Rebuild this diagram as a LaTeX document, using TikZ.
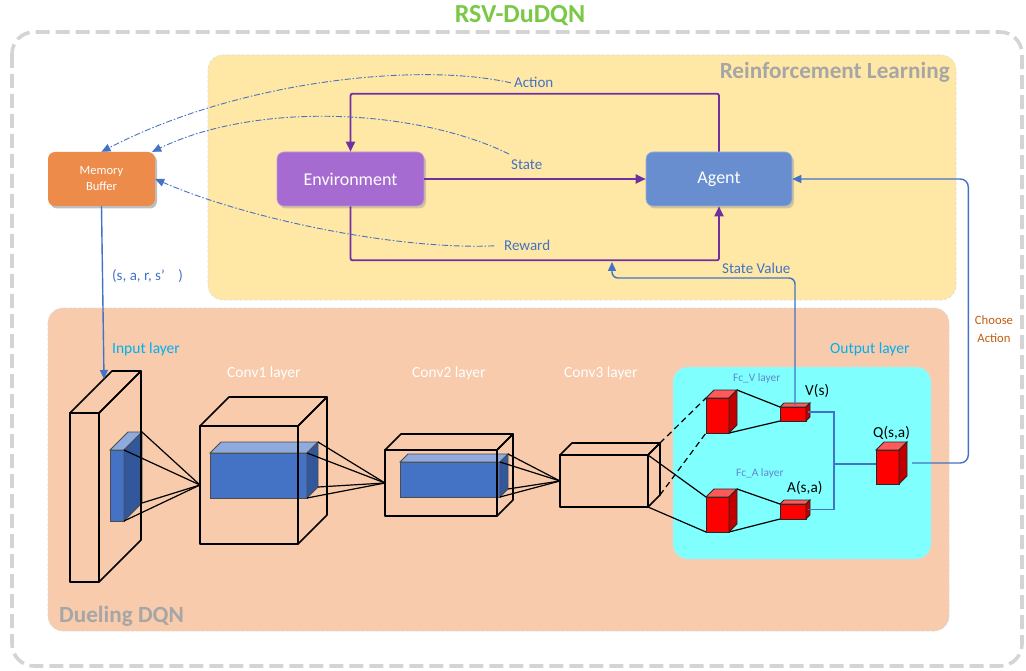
\documentclass[tikz,border=0pt]{standalone}
\usepackage{fontspec}
\setmainfont{Carlito}
\usetikzlibrary{arrows.meta,shadows,calc}

\definecolor{titlegreen}{RGB}{122,200,70}
\definecolor{frameg}{RGB}{212,212,212}
\definecolor{rlfill}{RGB}{255,232,166}
\definecolor{dqnfill}{RGB}{247,203,172}
\definecolor{outfill}{RGB}{128,255,255}
\definecolor{memfill}{RGB}{237,139,74}
\definecolor{envfill}{RGB}{166,107,208}
\definecolor{agentfill}{RGB}{105,142,208}
\definecolor{loopc}{RGB}{112,48,160}
\definecolor{linkc}{RGB}{68,114,196}
\definecolor{grayhead}{RGB}{166,166,166}
\definecolor{cyanlbl}{RGB}{0,176,240}
\definecolor{choosec}{RGB}{197,90,17}
\definecolor{cubefront}{RGB}{68,114,196}
\definecolor{cubetop}{RGB}{143,170,220}
\definecolor{cubeside}{RGB}{50,87,155}
\definecolor{redtop}{RGB}{255,90,90}
\definecolor{redside}{RGB}{192,0,0}

\newcommand{\fs}[2]{\fontsize{#1}{#2}\selectfont}

% cuboid: name, x, y (front top-left, y downwards), width, height, depth,
% front style, top style, side style
\newcommand{\cuboid}[9]{%
  \coordinate (#1-ftl) at (#2,#3);
  \coordinate (#1-ftr) at ({#2+#4},#3);
  \coordinate (#1-fbl) at (#2,{#3+#5});
  \coordinate (#1-fbr) at ({#2+#4},{#3+#5});
  \coordinate (#1-btl) at ({#2+#6},{#3-#6});
  \coordinate (#1-btr) at ({#2+#4+#6},{#3-#6});
  \coordinate (#1-bbr) at ({#2+#4+#6},{#3+#5-#6});
  \coordinate (#1-l) at (#2,{#3+#5/2});
  \coordinate (#1-r) at ({#2+#4+#6/2},{#3+#5/2-#6/2});
  \coordinate (#1-t) at ({#2+#4/2+#6/2},{#3-#6/2});
  \path[#7] (#1-ftl) rectangle (#1-fbr);
  \path[#8] (#1-ftl) -- (#1-btl) -- (#1-btr) -- (#1-ftr) -- cycle;
  \path[#9] (#1-ftr) -- (#1-btr) -- (#1-bbr) -- (#1-fbr) -- cycle;
}

\begin{document}
\begin{tikzpicture}[x=1pt,y=-1pt,
  panel/.style={rounded corners=15pt, draw=black!14, line width=0.6pt, dash pattern=on 3pt off 2pt},
  blk/.style={rounded corners=7pt, minimum height=54pt, inner sep=0pt, text=white, align=center},
  lbl/.style={inner sep=0pt, text=linkc, font=\fs{15}{18}},
  layertxt/.style={inner sep=0pt, text=white, font=\fs{15.5}{18}},
  cyantxt/.style={inner sep=0pt, text=cyanlbl, font=\fs{15.5}{18}},
  fctxt/.style={inner sep=0pt, text=linkc!85, font=\fs{11.4}{14}},
  qtxt/.style={inner sep=0pt, text=black, font=\fs{15.3}{18}},
  headtxt/.style={inner sep=0pt, text=grayhead, font=\bfseries\fs{23.2}{26}},
  rlloop/.style={draw=loopc, line width=1.8pt, rounded corners=2pt, -{Triangle[length=10pt,width=9pt]}},
  rllink/.style={draw=linkc, line width=1.4pt},
  rllinkarrow/.style={rllink, -{Triangle[length=9pt,width=8pt]}},
  memlink/.style={draw=linkc, line width=0.9pt, dash pattern=on 6pt off 2pt on 1.5pt off 2pt, -{Triangle[length=9pt,width=8pt]}},
  cubewire/.style={draw=black, line width=1.6pt, line join=round},
  fanray/.style={draw=black, line width=1.2pt},
  bfront/.style={fill=cubefront, draw=black!70, line width=0.8pt},
  btop/.style={fill=cubetop, draw=black!70, line width=0.8pt},
  bside/.style={fill=cubeside, draw=black!70, line width=0.8pt},
  rfront/.style={fill=red, draw=black!85, line width=0.9pt},
  rtop/.style={fill=redtop, draw=black!85, line width=0.9pt},
  rside/.style={fill=redside, draw=black!85, line width=0.9pt},
]
\useasboundingbox (0,0) rectangle (1026,671);

% outer frame and panels
\draw[draw=frameg, line width=3.6pt, dash pattern=on 14pt off 6pt, rounded corners=22pt] (12,32) rectangle (1022,666);
\path[panel, fill=rlfill] (208,55) rectangle (956,300);
\path[panel, fill=dqnfill] (48,308) rectangle (949,631);
\path[panel, fill=outfill] (673,367) rectangle (931,559);

\node[font=\bfseries\fs{26}{30}, text=titlegreen, inner sep=0pt, anchor=base] (title) at (520,23) {RSV-DuDQN};
\node[headtxt, anchor=base east] (rlhead) at (950,79) {Reinforcement Learning};
\node[headtxt, anchor=base west] (dqnhead) at (59,622) {Dueling DQN};

% reinforcement learning blocks
\node[blk, fill=memfill, minimum width=107pt, font=\fs{12.5}{16},
      drop shadow={opacity=0.5, shadow xshift=2pt, shadow yshift=-2.5pt}] (mem) at (101.5,179) {Memory\\Buffer};
\node[blk, fill=envfill, minimum width=147pt, font=\fs{18}{20}, draw=envfill!70!white, line width=0.6pt,
      drop shadow={opacity=0.35, shadow xshift=2pt, shadow yshift=-2.5pt}] (env) at (350.5,179) {Environment};
\node[blk, fill=agentfill, minimum width=146pt, font=\fs{18}{20}, draw=agentfill!70!white, line width=0.6pt,
      drop shadow={opacity=0.35, shadow xshift=2pt, shadow yshift=-2.5pt}] (agent) at (719,179) {Agent};

\node[lbl, anchor=base west] (actlab) at (514,88) {Action};
\node[lbl, anchor=base west] (stlab) at (511,170) {State};
\node[lbl, anchor=base west] (rwlab) at (504,251) {Reward};
\node[lbl, anchor=base west] (svlab) at (722,273) {State Value};
\node[lbl, anchor=base west] (tuple) at (112,280) {(s, a, r, s’\ \ \ \ )};
\node[inner sep=0pt, text=choosec, font=\fs{12.7}{18}, align=center, anchor=base] (choose) at (994,342) {Choose\\Action};

% agent-environment loop
\draw[rlloop] (agent.north) -- ++(0,-58) -| (env.north);
\draw[rlloop] (env.east) -- (agent.west);
\draw[rlloop] (env.south) -- ++(0,54) -| (agent.south);

% transitions stored in the memory buffer
\coordinate (actstart) at ($(actlab.west)+(-3,0)$);
\coordinate (ststart) at ($(stlab.north west)+(-2,-6)$);
\coordinate (rwstart) at ($(rwlab.west)+(-10,0)$);
\draw[memlink] (actstart) .. controls (420,62) and (240,80) .. (mem.north);
\draw[memlink] (ststart) .. controls (420,110) and (260,100) .. ($(mem.north east)+(-3,0)$);
\draw[memlink] (rwstart) .. controls (400,250) and (250,220) .. (mem.east);

% layer captions
\node[cyantxt, anchor=base west] (inlab) at (112,353) {Input layer};
\node[layertxt, anchor=base west] (c1lab) at (227,377) {Conv1 layer};
\node[layertxt, anchor=base west] (c2lab) at (412,377) {Conv2 layer};
\node[layertxt, anchor=base west] (c3lab) at (564,377) {Conv3 layer};
\node[cyantxt, anchor=base west] (outlab) at (830,353) {Output layer};
\node[fctxt, anchor=base west] (fcvlab) at (733,381) {Fc\_V layer};
\node[fctxt, anchor=base west] (fcalab) at (736,476) {Fc\_A layer};
\node[qtxt, anchor=base west] (vlab) at (805,395) {V(s)};
\node[qtxt, anchor=base west] (alab) at (787,492) {A(s,a)};
\node[qtxt, anchor=base west] (qlab) at (873,437) {Q(s,a)};

% convolutional stack
\cuboid{inb}{110}{450}{14}{71}{18}{bfront}{btop}{bside}
\cuboid{in}{70}{413}{29}{169}{42}{cubewire}{cubewire}{cubewire}
\cuboid{cab}{210}{453}{97}{45}{11}{bfront}{btop}{bside}
\cuboid{c1}{200}{426}{98}{118}{29}{cubewire}{cubewire}{cubewire}
\cuboid{cbb}{400}{462}{100}{35}{8}{bfront}{btop}{bside}
\cuboid{c2}{385}{450}{112}{66}{16}{cubewire}{cubewire}{cubewire}
\cuboid{c3}{560}{455}{88}{52}{12}{cubewire}{cubewire}{cubewire}

\foreach \p in {ftr,btr,bbr,fbr} {
  \draw[fanray] (inb-\p) -- (c1-l);
  \draw[fanray] (cab-\p) -- (c2-l);
  \draw[fanray] (cbb-\p) -- (c3-l);
}

% input from the memory buffer
\coordinate (intop) at ($(in-ftl)!0.81!(in-btl)$);
\draw[rllinkarrow] (mem.south) -- (intop);

% dueling heads
\coordinate (fcvftl) at (706,398);
\coordinate (fcvfbl) at (706,433);
\draw[fanray] (c3-ftr) -- (706,497);
\draw[fanray] (c3-fbr) -- (706,532);
\draw[fanray, dash pattern=on 6pt off 4pt] (c3-btr) -- (fcvftl);
\draw[fanray, dash pattern=on 6pt off 4pt] (c3-bbr) -- (fcvfbl);

\draw[fanray] (737,390) -- (780,407);
\draw[fanray] (729,433) -- (780,421);
\draw[fanray] (737,489) -- (780,504);
\draw[fanray] (729,532) -- (780,519);

\cuboid{fcv}{706}{398}{23}{35}{8}{rfront}{rtop}{rside}
\cuboid{fca}{706}{497}{23}{35}{8}{rfront}{rtop}{rside}
\cuboid{V}{780}{407}{26}{14}{4}{rfront}{rtop}{rside}
\cuboid{A}{780}{504}{26}{15}{4}{rfront}{rtop}{rside}
\cuboid{Q}{876}{450}{23}{34}{8}{rfront}{rtop}{rside}

% aggregation into Q
\draw[rllink] (V-r) -- ++(26,0) |- (A-r);
\coordinate (jn) at (834,464);
\draw[rllink] (jn) -- (jn -| Q-ftl);

% feedback to the agent
\coordinate (svbend) at (612,278);
\coordinate (svtip) at (612,262);
\draw[rllinkarrow, rounded corners=6pt] (V-t) |- (svbend) -- (svtip);
\draw[rllinkarrow, rounded corners=8pt] ($(Q-r)+(9,0)$) -| ($(agent.east)+(176,0)$) -- (agent.east);

\end{tikzpicture}
\end{document}
